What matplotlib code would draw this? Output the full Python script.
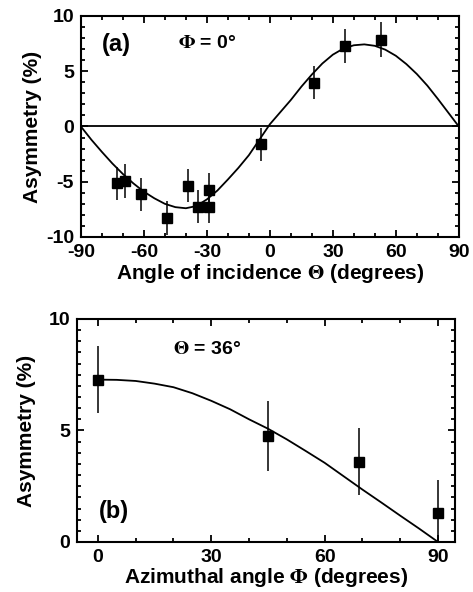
import matplotlib.pyplot as plt
from matplotlib.ticker import MultipleLocator

plt.rcParams["font.family"] = ["Liberation Sans", "DejaVu Sans"]
plt.rcParams["font.weight"] = "bold"
plt.rcParams["mathtext.fontset"] = "stix"
plt.rcParams["axes.unicode_minus"] = False

# panel (a): asymmetry vs angle of incidence, Phi = 0
theta_data = [-72.9, -69.0, -61.2, -49.2, -39.2, -34.1, -29.1, -29.1, -4.4, 20.8, 35.8, 52.9]
asym_a = [-5.15, -4.94, -6.14, -8.3, -5.36, -7.25, -7.25, -5.75, -1.62, 3.98, 7.25, 7.87]
err_a = [1.5, 1.55, 1.5, 1.55, 1.5, 1.5, 1.5, 1.5, 1.5, 1.5, 1.55, 1.55]

theta_fit = [-90, -85, -80, -75, -70, -65, -60, -55, -50, -45, -40, -35, -30, -25,
             -20, -15, -10, -5, 0, 5, 10, 15, 20, 25, 30, 35, 40, 45, 50, 55, 60,
             65, 70, 75, 80, 85, 90]
fit_a = [0.0, -1.2, -2.3, -3.35, -4.3, -5.15, -5.9, -6.5, -7.0, -7.3, -7.4, -7.2,
         -6.6, -5.8, -4.8, -3.75, -2.6, -1.2, 0.2, 1.3, 2.4, 3.6, 4.7, 5.7, 6.5,
         7.05, 7.35, 7.43, 7.3, 6.95, 6.4, 5.65, 4.75, 3.7, 2.5, 1.25, 0.0]

# panel (b): asymmetry vs azimuthal angle, Theta = 36
phi_data = [0.0, 45.0, 69.1, 90.1]
asym_b = [7.28, 4.75, 3.59, 1.28]
err_b = [1.5, 1.55, 1.5, 1.5]

phi_fit = [0, 5, 10, 15, 20, 25, 30, 35, 40, 45, 50, 55, 60, 65, 70, 75, 80, 85, 90]
fit_b = [7.28, 7.27, 7.22, 7.1, 6.94, 6.67, 6.33, 5.95, 5.5, 5.08, 4.6, 4.08,
         3.55, 2.95, 2.35, 1.77, 1.18, 0.6, 0.0]


def style_axes(ax):
    for sp in ax.spines.values():
        sp.set_linewidth(1.5)
    ax.tick_params(which="both", direction="in", top=True, right=True,
                   labelsize=14, width=1.3, pad=5)
    ax.tick_params(which="major", length=5)
    ax.tick_params(which="minor", length=3)
    for lab in ax.get_xticklabels() + ax.get_yticklabels():
        lab.set_fontweight("bold")


fig = plt.figure(figsize=(4.73, 5.92), dpi=100)

ax1 = fig.add_axes([0.171, 0.5997, 0.799, 0.3733])
ax1.axhline(0, color="black", lw=1.3)
ax1.plot(theta_fit, fit_a, color="black", lw=1.3)
ax1.errorbar(theta_data, asym_a, yerr=err_a, fmt="s", color="black",
             ms=6.5, elinewidth=1.1, capsize=0)
ax1.set_xlim(-90, 90)
ax1.set_ylim(-10, 10)
ax1.xaxis.set_major_locator(MultipleLocator(30))
ax1.xaxis.set_minor_locator(MultipleLocator(10))
ax1.yaxis.set_major_locator(MultipleLocator(5))
ax1.yaxis.set_minor_locator(MultipleLocator(1))
style_axes(ax1)
ax1.set_xlabel(r"Angle of incidence $\Theta$ (degrees)", fontsize=15,
               fontweight="bold", labelpad=1)
ax1.set_ylabel("Asymmetry (%)", fontsize=15, fontweight="bold", labelpad=3)
ax1.text(-80, 7.4, "(a)", fontsize=17, fontweight="bold", va="center")
ax1.text(-43.7, 7.5, r"$\Phi$ = 0°", fontsize=14, fontweight="bold", va="center")

ax2 = fig.add_axes([0.163, 0.0845, 0.799, 0.3767])
ax2.plot(phi_fit, fit_b, color="black", lw=1.3)
ax2.errorbar(phi_data, asym_b, yerr=err_b, fmt="s", color="black",
             ms=6.5, elinewidth=1.1, capsize=0)
ax2.set_xlim(-5.5, 94.5)
ax2.set_ylim(0, 10)
ax2.xaxis.set_major_locator(MultipleLocator(30))
ax2.xaxis.set_minor_locator(MultipleLocator(10))
ax2.yaxis.set_major_locator(MultipleLocator(5))
ax2.yaxis.set_minor_locator(MultipleLocator(0.5))
style_axes(ax2)
ax2.set_xlabel(r"Azimuthal angle $\Phi$ (degrees)", fontsize=15,
               fontweight="bold", labelpad=0)
ax2.set_ylabel("Asymmetry (%)", fontsize=15, fontweight="bold", labelpad=9)
ax2.text(0.3, 1.35, "(b)", fontsize=17, fontweight="bold", va="center")
ax2.text(19.9, 8.65, r"$\Theta$ = 36°", fontsize=14, fontweight="bold", va="center")

fig.savefig("out.png", dpi=100)
plt.close(fig)
